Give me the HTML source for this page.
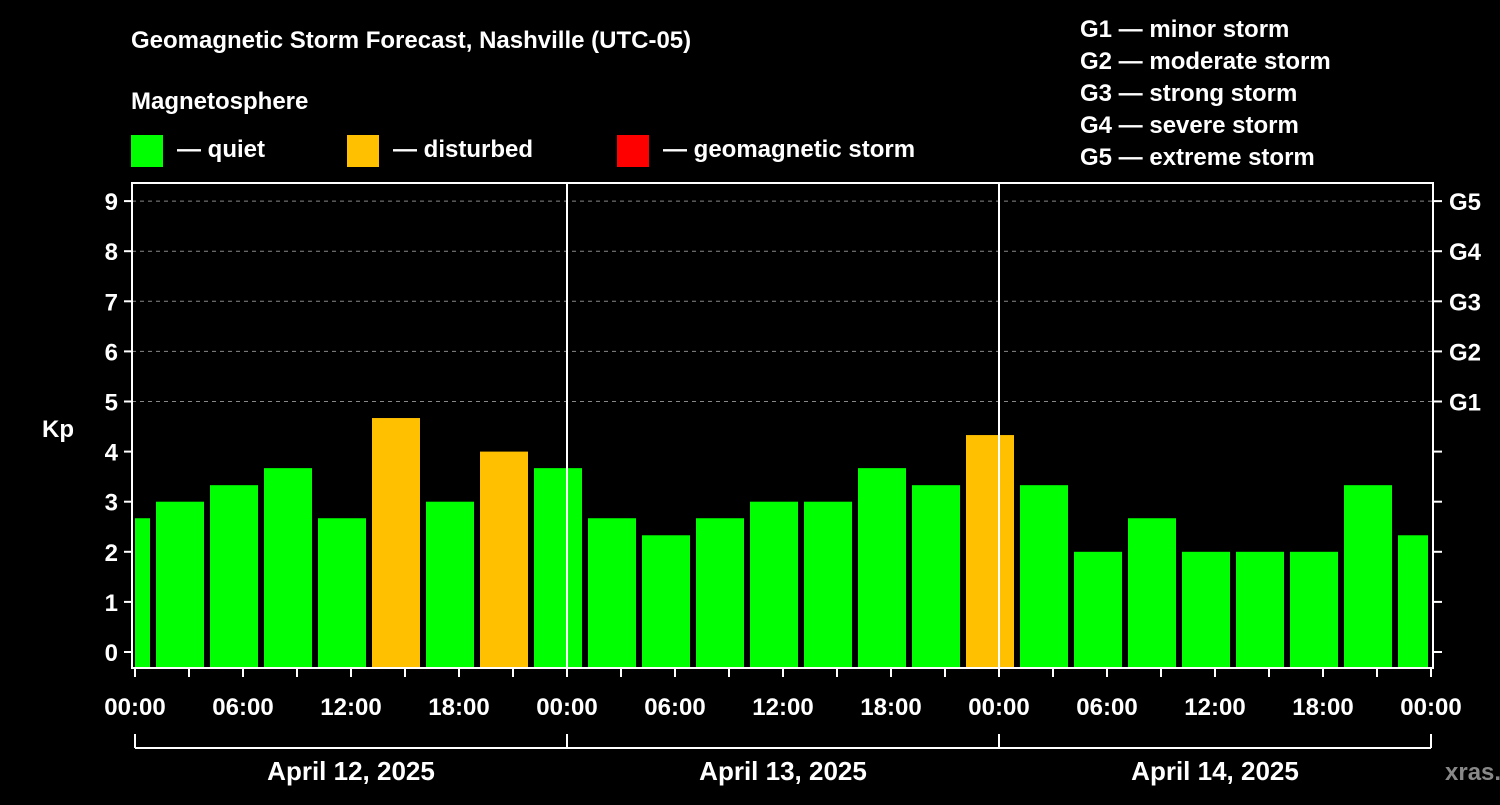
<!DOCTYPE html>
<html><head><meta charset="utf-8"><style>
body{margin:0;background:#000;width:1500px;height:800px;overflow:hidden}
svg text{font-family:"Liberation Sans",sans-serif;font-weight:bold;fill:#fff}
</style></head><body>
<svg id="chart" width="1500" height="800" xmlns="http://www.w3.org/2000/svg">
<text x="131" y="48" font-size="24">Geomagnetic Storm Forecast, Nashville (UTC-05)</text>
<text x="131" y="109" font-size="24">Magnetosphere</text>
<rect x="131" y="135" width="32" height="32" fill="#00ff00"/>
<text x="177" y="157" font-size="24">— quiet</text>
<rect x="347" y="135" width="32" height="32" fill="#ffc000"/>
<text x="393" y="157" font-size="24">— disturbed</text>
<rect x="617" y="135" width="32" height="32" fill="#ff0000"/>
<text x="663" y="157" font-size="24">— geomagnetic storm</text>
<g font-size="24">
<text x="1080" y="37">G1 — minor storm</text>
<text x="1080" y="69">G2 — moderate storm</text>
<text x="1080" y="101">G3 — strong storm</text>
<text x="1080" y="133">G4 — severe storm</text>
<text x="1080" y="165">G5 — extreme storm</text>
</g>
<text x="42" y="437" font-size="24">Kp</text>
<g id="grid"></g><g id="bars"></g><g id="axes"></g>
<text x="1445" y="780" font-size="24" style="fill:#888">xras.ru</text>
</svg>
<script>
const values=[2.67,3,3.33,3.67,2.67,4.67,3,4,3.67,2.67,2.33,2.67,3,3,3.67,3.33,4.33,3.33,2,2.67,2,2,2,3.33,2.33];
const barHours=[-0.5,2.5,5.5,8.5,11.5,14.5,17.5,20.5,23.5,26.5,29.5,32.5,35.5,38.5,41.5,44.5,47.5,50.5,53.5,56.5,59.5,62.5,65.5,68.5,71.5];
const yTicks=[0,1,2,3,4,5,6,7,8,9];
const gLabels=["G1","G2","G3","G4","G5"];
const timeLabels=["00:00","06:00","12:00","18:00","00:00","06:00","12:00","18:00","00:00","06:00","12:00","18:00","00:00"];
const dayLabels=["April 12, 2025","April 13, 2025","April 14, 2025"];
const NS="http://www.w3.org/2000/svg";
const X=h=>135+h*18, Y=k=>652-k*50.1;
const L=132,R=1433,T=183,B=668;
function mk(tag,at,parent){const e=document.createElementNS(NS,tag);for(const k in at)e.setAttribute(k,at[k]);parent.appendChild(e);return e;}
const grid=document.getElementById('grid'),bars=document.getElementById('bars'),axes=document.getElementById('axes');
for(let k=5;k<=9;k++){const l=mk('line',{x1:L,x2:R,y1:Y(k),y2:Y(k),stroke:'#888','stroke-dasharray':'4,4','stroke-width':1},grid);

}
values.forEach((v,i)=>{let x0=Math.max(X(barHours[i])-24,135),x1=Math.min(X(barHours[i])+24,1428);
const c=v>=5?'#ff0000':(v>=4?'#ffc000':'#00ff00');
const r=mk('rect',{x:x0,y:Y(v),width:x1-x0,height:B-Y(v),fill:c},bars);

});
mk('rect',{x:L,y:T,width:R-L,height:B-T,fill:'none',stroke:'#fff','stroke-width':2},axes);
[24,48].forEach(h=>mk('line',{x1:X(h),x2:X(h),y1:T,y2:B,stroke:'#fff','stroke-width':2},axes));
yTicks.forEach(k=>{mk('line',{x1:L-8,x2:L,y1:Y(k),y2:Y(k),stroke:'#fff','stroke-width':2},axes);
mk('line',{x1:R,x2:R+9,y1:Y(k),y2:Y(k),stroke:'#fff','stroke-width':2},axes);
const t=mk('text',{x:L-14,y:Y(k)+9,'text-anchor':'end','font-size':24},axes);t.textContent=k;

});
gLabels.forEach((g,i)=>{const t=mk('text',{x:1449,y:Y(5+i)+9,'font-size':24},axes);t.textContent=g;

});
for(let h=0;h<=72;h+=3)mk('line',{x1:X(h),x2:X(h),y1:B,y2:B+9,stroke:'#fff','stroke-width':2},axes);
timeLabels.forEach((s,i)=>{const t=mk('text',{x:X(i*6),y:715,'text-anchor':'middle','font-size':24},axes);t.textContent=s;

});
mk('line',{x1:X(0),x2:X(72),y1:748,y2:748,stroke:'#fff','stroke-width':2},axes);
[0,24,48,72].forEach(h=>mk('line',{x1:X(h),x2:X(h),y1:734,y2:748,stroke:'#fff','stroke-width':2},axes));
dayLabels.forEach((s,i)=>{const t=mk('text',{x:X(i*24+12),y:780,'text-anchor':'middle','font-size':26},axes);t.textContent=s;

});
</script>
</body></html>
